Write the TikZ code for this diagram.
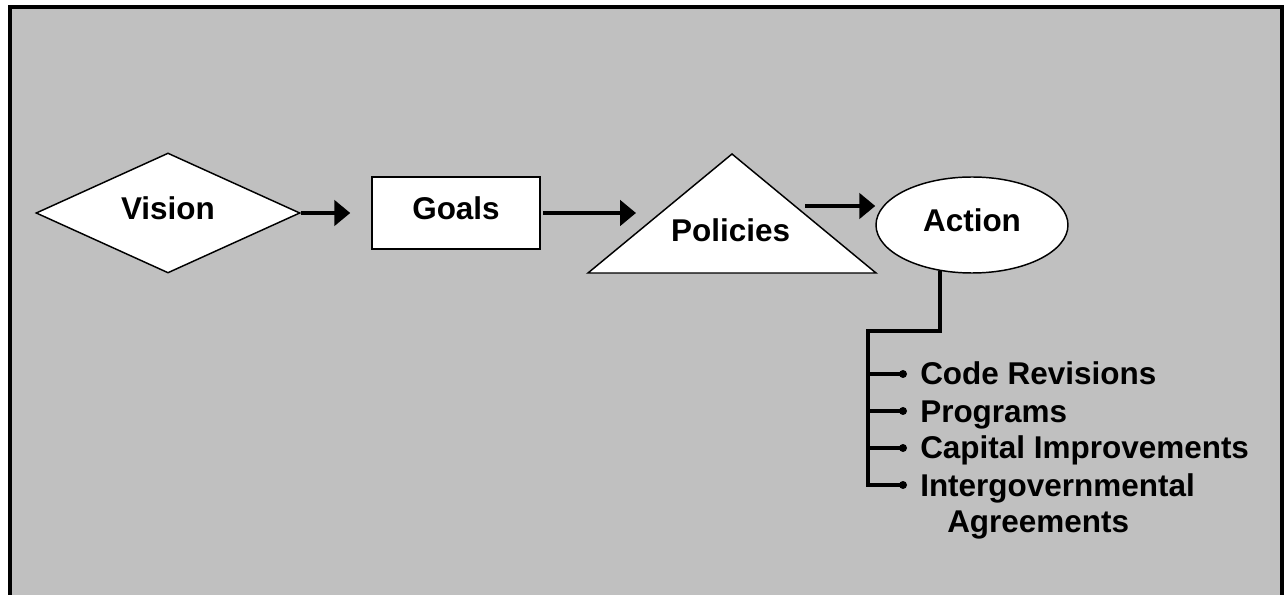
\documentclass[tikz,border=0pt]{standalone}
\usepackage{fontspec}
\setmainfont{Liberation Sans}
\usetikzlibrary{arrows.meta,positioning,shapes.geometric}
\definecolor{panelgray}{RGB}{192,192,192}

\begin{document}
\begin{tikzpicture}[x=0.75pt,y=-0.75pt,on grid,
    every node/.style={font=\fontsize{23.6pt}{27.75pt}\selectfont\bfseries},
    fig/.style={draw,fill=white,line width=1.1pt,text height=17pt,text depth=7pt},
    lbl/.style={text height=17pt,text depth=7pt},
    flow/.style={line width=3.6pt,-{Triangle[length=12pt,width=19pt]}},
    tree/.style={line width=3pt,line join=miter},
    item/.style={anchor=base west,inner sep=0pt}]
\useasboundingbox (0,0) rectangle (1286,595);
\fill[white] (0,0) rectangle (1286,595);
\draw[line width=3pt,fill=panelgray] (10,7) rectangle (1282,640);

\node[fig,diamond,aspect=2.2,minimum width=198pt,minimum height=90pt] (vision) at (168,213) {Vision};
\node[fig,rectangle,minimum width=126pt,minimum height=54pt] (goals) [right=216pt of vision] {Goals};
% triangle behind the policies label
\coordinate (tl) at (588,273);
\coordinate (ta) at (732,154);
\coordinate (tr) at (876,273);
\draw[fill=white,line width=1.1pt] (tl) -- (ta) -- (tr) -- cycle;
\node[lbl] (pol) [below right=16.7pt and 206pt of goals] {Policies};
\node[fig,ellipse,minimum width=144pt,minimum height=72pt] (act) [above right=7.7pt and 181pt of pol] {Action};

\coordinate (pin) at (636,213);
\coordinate (pout) at (805,206);
\draw[flow,shorten >=15.75pt] (vision.east) -- (goals.west);
\draw[flow,shorten <=2pt] (goals.east) -- (pin);
\draw[flow] (pout) -- (pout -| act.west);

% action items
\coordinate (knee) at (868,331);
\foreach \txt [count=\i] in {Code Revisions,Programs,Capital Improvements,Intergovernmental}{
  \node[item] (it\i) at (920,348+37*\i) {\txt};
  \coordinate (b\i) at (903,337+37*\i);
  \draw[tree] (knee |- b\i) -- (b\i);
  \fill (b\i) circle[radius=3pt];
}
\node[item] (agr) at (947,532) {Agreements};
\draw[tree] (act.235) |- (knee) -- (knee |- b4) -- (b4);
\end{tikzpicture}
\end{document}
